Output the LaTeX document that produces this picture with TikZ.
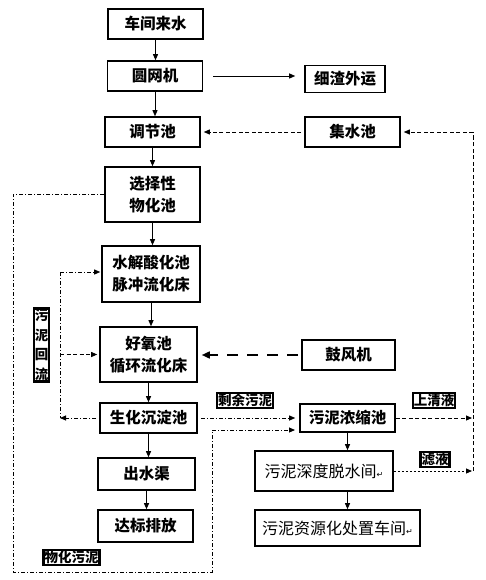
\documentclass[tikz,border=0pt]{standalone}
\usepackage{fontspec}
\setmainfont{Noto Sans CJK SC}
\newfontfamily\symfont{DejaVu Sans}
\usetikzlibrary{arrows.meta, positioning}
\newcommand{\pmark}{{\symfont\fontsize{8}{8}\selectfont ↵}}

\begin{document}
\begin{tikzpicture}[x=1pt, y=-1pt,
  box/.style={rectangle, draw=black, line width=1.6pt, minimum width=95pt,
    minimum height=30pt, align=center, inner sep=2pt,
    font=\fontsize{15.5}{22}\selectfont\bfseries},
  plainbox/.style={box, font=\fontsize{16}{18}\selectfont},
  tag/.style={rectangle, draw=black, line width=2.4pt, fill=white, inner sep=1pt,
    align=center, font=\fontsize{13.5}{19.5}\selectfont\bfseries},
  arr/.style={-{Triangle[length=6pt, width=5pt]}, line width=0.9pt},
  dasharr/.style={arr, dash pattern=on 4pt off 2.5pt},
  finearr/.style={arr, dash pattern=on 2pt off 2pt},
  dotarr/.style={arr, dash pattern=on 4pt off 2pt on 1pt off 2pt},
  dotline/.style={line width=0.9pt, dash pattern=on 4pt off 2pt on 1pt off 2pt},
  airarr/.style={-{Triangle[length=8pt, width=7pt]}, line width=1.6pt,
    dash pattern=on 11pt off 9pt},
]
\useasboundingbox (0,0) rectangle (485,580);
% ====== MAIN WATER LINE ======
\node[box] (n_in) at (155.5,24) {车间来水};
\node[box] (n_screen) at (155,76) {圆网机};
\node[box, minimum width=80pt, minimum height=27pt] (n_slag) at (345,79) {细渣外运};
\node[box] (n_adj) at (152.5,132) {调节池};
\node[box] (n_coll) at (352.5,132) {集水池};
\node[box, minimum height=55pt] (n_chem) at (152.5,194.5) {选择性\\物化池};
\node[box, minimum width=98pt, minimum height=56pt] (n_hyd) at (151,274) {水解酸化池\\脉冲流化床};
\node[box, minimum width=97pt, minimum height=55pt] (n_aer) at (148.5,354.5) {好氧池\\循环流化床};
\node[box, minimum width=93pt] (n_blow) at (348.5,355) {鼓风机};
\node[box, minimum width=97pt] (n_sed) at (148.5,418) {生化沉淀池};
\node[box, minimum width=97pt, minimum height=32pt] (n_out) at (146.5,474) {出水渠};
\node[box, minimum height=32pt] (n_dis) at (145.5,526) {达标排放};
% ====== SLUDGE LINE ======
\node[box, minimum height=28pt] (n_thick) at (347.5,418) {污泥浓缩池};
\node[plainbox, minimum width=138pt, minimum height=40pt] (n_dew) at (324,471) {污泥深度脱水间\pmark};
\node[plainbox, minimum width=165pt, minimum height=36pt] (n_res) at (337.5,528) {污泥资源化处置车间\pmark};
% ====== TAGS ======
\node[tag] (l_ret) at (41.5,345) {污\\泥\\回\\流};
\node[tag] (l_ex) at (245,400.5) {剩余污泥};
\node[tag] (l_sup) at (434,400.5) {上清液};
\node[tag] (l_fil) at (435,459.5) {滤液};
\node[tag] (l_chem) at (71.5,557.5) {物化污泥};
% ====== SOLID ARROWS ======
\draw[arr] (n_in.south) -- (n_in.south |- n_screen.north);
\draw[arr] (n_screen.south) -- (n_screen.south |- n_adj.north);
\draw[arr] (n_adj.south) -- (n_adj.south |- n_chem.north);
\draw[arr] (n_chem.south) -- (n_chem.south |- n_hyd.north);
\draw[arr] (n_hyd.south) -- (n_hyd.south |- n_aer.north);
\draw[arr] (n_aer.south) -- (n_aer.south |- n_sed.north);
\draw[arr] (n_sed.south) -- (n_sed.south |- n_out.north);
\draw[arr] (n_out.south) -- (n_out.south |- n_dis.north);
\draw[arr, shorten <=10pt, shorten >=9pt] (n_screen.east) -- (n_screen.east -| n_slag.west);
\draw[arr] (n_thick.south) -- (n_thick.south |- n_dew.north);
\draw[arr] (n_thick.south |- n_dew.south) -- (n_thick.south |- n_res.north);
% ====== AIR ======
\draw[airarr, shorten <=3pt, shorten >=4pt] (n_blow.west) -- (n_aer.east |- n_blow.west);
% ====== RECYCLE / SLUDGE FLOWS ======
\draw[dasharr, shorten <=3pt, shorten >=3pt] (n_coll.west) -- (n_adj.east);
\coordinate (c_retb) at (60,418);
\coordinate (c_rett) at (60,272);
\draw[dotarr, shorten <=3pt] (n_sed.west) -- (c_retb);
\draw[dotline] (c_rett) -- (c_retb);
\draw[dotarr, shorten >=1pt] (c_rett) -- (n_hyd.west |- c_rett);
\draw[dasharr, shorten >=2pt] (c_retb |- n_aer) -- (n_aer.west);
\draw[dotarr, shorten <=3pt, shorten >=4pt] (n_sed.east) -- (n_thick.west);
\coordinate (c_o1) at (13,572);
\coordinate (c_o2) at (212,572);
\coordinate (c_o3) at (295,430);
\draw[dotarr] (n_chem.west) -| (c_o1) -- (c_o2) |- (c_o3);
\coordinate (c_r1) at (473,418);
\coordinate (c_r2) at (473,471);
\coordinate (c_rt) at (473,132);
\draw[dasharr, shorten >=1pt] (n_thick.east) -- (c_r1);
\draw[finearr, shorten >=1pt] (n_dew.east) -- (c_r2);
\draw[dash pattern=on 4pt off 2.5pt, line width=0.9pt] (c_r2) -- (c_rt);
\draw[dasharr, shorten >=3pt] (c_rt) -- (n_coll.east);
\end{tikzpicture}
\end{document}
